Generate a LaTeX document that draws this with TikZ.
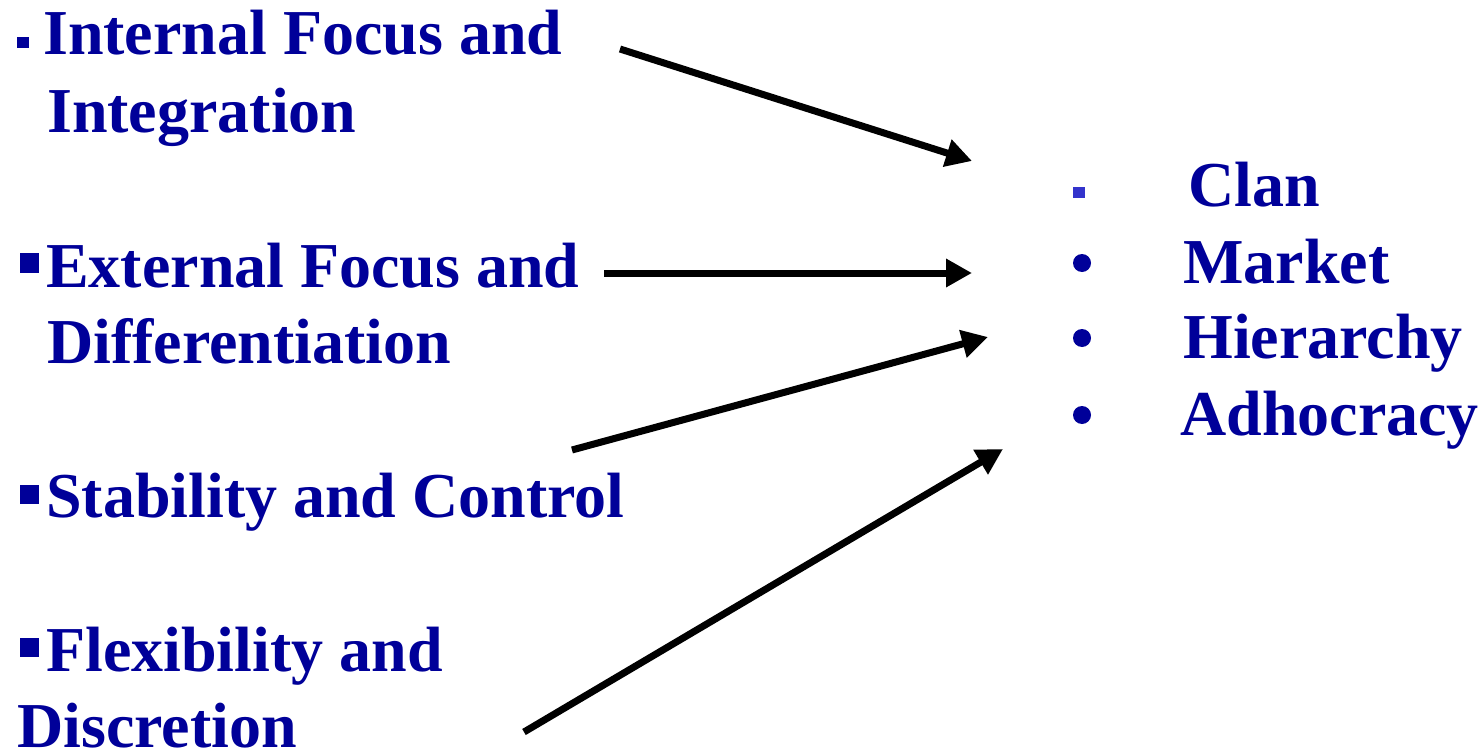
\documentclass[tikz,border=0pt]{standalone}
\usepackage{fontspec}
\setmainfont{Liberation Serif}
\usetikzlibrary{arrows.meta}
\newlength{\du}
\setlength{\du}{1pt}
\definecolor{textblue}{rgb}{0.000000, 0.000000, 0.600000}
\definecolor{clanblue}{rgb}{0.200000, 0.200000, 0.800000}

\begin{document}
\begin{tikzpicture}[
  lbl/.style={anchor=base west, inner sep=0pt, text=textblue,
    font=\fontsize{64}{77}\selectfont\bfseries},
  arr/.style={draw=black, line width=7\du,
    -{Triangle[length=26pt,width=27pt]}}
]
\pgftransformxscale{1.000000}
\pgftransformyscale{-1.000000}
\useasboundingbox (0\du,0\du) rectangle (1484\du,749\du);
% left bullets
\fill[textblue] (17\du,37\du) rectangle (29\du,48\du);
\fill[textblue] (20\du,253\du) rectangle (39\du,273\du);
\fill[textblue] (20\du,485\du) rectangle (39\du,504\du);
\fill[textblue] (20\du,638\du) rectangle (39\du,657\du);
% left labels
\node[lbl] (internal) at (43\du,55\du){Internal Focus and};
\node[lbl] (integration) at (47\du,133\du){Integration};
\node[lbl] (external) at (46\du,287\du){External Focus and};
\node[lbl] (differentiation) at (47\du,363\du){Differentiation};
\node[lbl] (stability) at (46\du,517\du){Stability and Control};
\node[lbl] (flexibility) at (46\du,671\du){Flexibility and};
\node[lbl] (discretion) at (17\du,747\du){Discretion};
% right bullets
\fill[clanblue] (1073\du,187\du) rectangle (1085\du,198\du);
\fill[textblue] (1082\du,263\du) circle (9\du);
\fill[textblue] (1082\du,338\du) circle (9\du);
\fill[textblue] (1082\du,415\du) circle (9\du);
% right labels
\node[lbl] (clan) at (1188\du,207\du){Clan};
\node[lbl] (market) at (1183\du,283\du){Market};
\node[lbl] (hierarchy) at (1183\du,358\du){Hierarchy};
\node[lbl] (adhocracy) at (1180\du,435\du){Adhocracy};
% arrows
\coordinate (internal-from) at (620\du,49\du);
\coordinate (internal-to) at (972\du,161\du);
\coordinate (external-from) at (604\du,273\du);
\coordinate (external-to) at (972\du,273\du);
\coordinate (stability-from) at (572\du,450\du);
\coordinate (stability-to) at (988\du,337\du);
\coordinate (flexibility-from) at (524\du,732\du);
\coordinate (flexibility-to) at (1003\du,449\du);
\draw[arr] (internal-from) -- (internal-to);
\draw[arr] (external-from) -- (external-to);
\draw[arr] (stability-from) -- (stability-to);
\draw[arr] (flexibility-from) -- (flexibility-to);
\end{tikzpicture}
\end{document}
